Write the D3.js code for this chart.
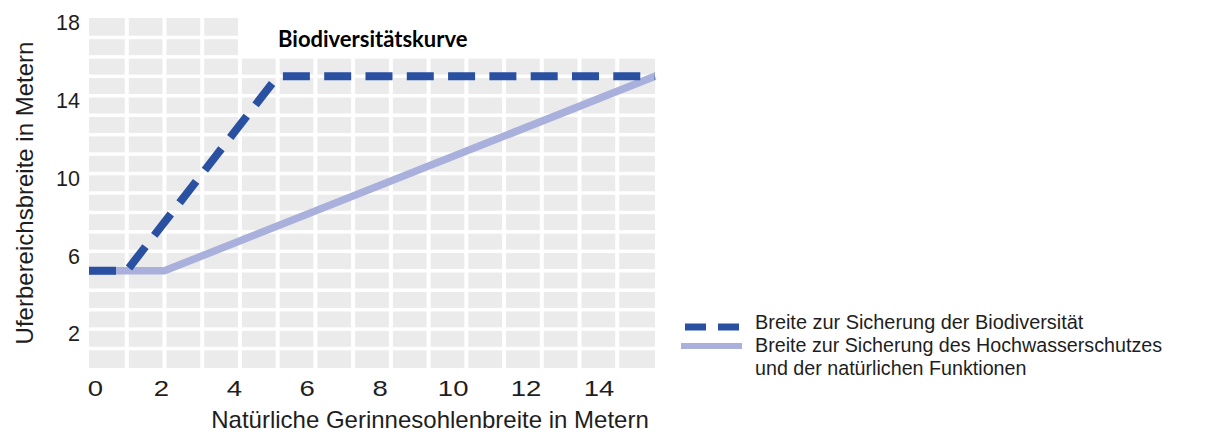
<!DOCTYPE html>
<html>
<head>
<meta charset="utf-8">
<script src="https://cdn.jsdelivr.net/npm/d3@7"></script>
<style>
  html, body { margin: 0; padding: 0; background: #fff; }
  svg { display: block; }
  text { font-family: "Liberation Sans", Arial, sans-serif; fill: #1e1e1e; }
</style>
</head>
<body>
<div id="chart"></div>
<script>
// natural channel width (x) vs. riparian width (y), both in metres
const bioX = [0, 1, 5, 15];
const bioY = [5, 5, 15, 15];
const floodX = [0, 2, 15];
const floodY = [5, 5, 15];

const xTicks = [0, 2, 4, 6, 8, 10, 12, 14];
const yTicks = [2, 6, 10, 14, 18];

const titleText = "Biodiversitätskurve";
const xTitle = "Natürliche Gerinnesohlenbreite in Metern";
const yTitle = "Uferbereichsbreite in Metern";
const legendBio = ["Breite zur Sicherung der Biodiversität"];
const legendFlood = ["Breite zur Sicherung des Hochwasserschutzes", "und der natürlichen Funktionen"];

const width = 1221;
const height = 432;

const darkBlue = "#2a50a2";
const lavender = "#a9b0dc";

const svg = d3.select("#chart")
  .append("svg")
  .attr("width", width)
  .attr("height", height);

const xScale = d3.scaleLinear().domain([0, 15]).range([89, 655]);
const yScale = d3.scaleLinear().domain([0, 18]).range([368, 18]);
// tick labels in the source sit on a slightly narrower spacing than the grid
const xTickScale = d3.scaleLinear().domain([0, 15.55]).range([88, 655]);

// grey cells with white gaps, top rows right of x=4 left blank for the title
const cells = [];
d3.range(15).forEach(c => {
  d3.range(18).forEach(r => {
    if (c >= 4 && r >= 16) return;
    cells.push({ c, r });
  });
});

svg.append("g")
  .selectAll("rect")
  .data(cells)
  .join("rect")
  .attr("x", d => xScale(d.c) + (d.c > 0 ? 2 : 0))
  .attr("width", d => xScale(d.c + 1) - xScale(d.c) - (d.c > 0 ? 2 : 0) - (d.c < 14 ? 2 : 0))
  .attr("y", d => yScale(d.r + 1) + (d.r < 17 ? 1.75 : 0))
  .attr("height", d => yScale(d.r) - yScale(d.r + 1) - (d.r < 17 ? 1.75 : 0) - (d.r > 0 ? 1.75 : 0))
  .attr("fill", "#ebebeb");

const line = d3.line()
  .x(d => xScale(d[0]))
  .y(d => yScale(d[1]))
  .curve(d3.curveLinear);

const floodPts = floodX.map((x, i) => [x, floodY[i]]);
const bioPts = bioX.map((x, i) => [x, bioY[i]]);

svg.append("path")
  .attr("d", line(floodPts))
  .attr("fill", "none")
  .attr("stroke", lavender)
  .attr("stroke-width", 7.5)
  .attr("stroke-linejoin", "miter");

svg.append("path")
  .attr("d", line(bioPts))
  .attr("fill", "none")
  .attr("stroke", darkBlue)
  .attr("stroke-width", 8)
  .attr("stroke-linejoin", "miter")
  .attr("stroke-dasharray", "27,14.3");

// axes
const xAxis = d3.axisBottom(xTickScale)
  .tickValues(xTicks)
  .tickSize(0)
  .tickPadding(12.4);

const gx = svg.append("g")
  .attr("transform", `translate(0, 368)`)
  .call(xAxis);
gx.select(".domain").remove();
gx.selectAll("text")
  .attr("font-size", 22)
  .attr("font-family", "Liberation Sans, Arial, sans-serif")
  .attr("fill", "#1e1e1e")
  .each(function (d) {
    const len = this.getComputedTextLength();
    d3.select(this)
      .attr("textLength", len * 1.25)
      .attr("lengthAdjust", "spacingAndGlyphs");
    if (d === 0) d3.select(this).attr("dx", 7);
  });

const yAxis = d3.axisLeft(yScale)
  .tickValues(yTicks)
  .tickSize(0)
  .tickPadding(9);

const gy = svg.append("g")
  .attr("transform", `translate(89, 0)`)
  .call(yAxis);
gy.select(".domain").remove();
gy.selectAll("text")
  .attr("font-size", 21.5)
  .attr("font-family", "Liberation Sans, Arial, sans-serif")
  .attr("fill", "#1e1e1e")
  .attr("dy", "0.55em");

// titles
svg.append("text")
  .attr("x", 278)
  .attr("y", 47)
  .style("font-family", "Lato, 'Open Sans', sans-serif")
  .attr("font-weight", "bold")
  .attr("font-size", 22)
  .style("fill", "#000")
  .text(titleText);

svg.append("text")
  .attr("x", 430)
  .attr("y", 428)
  .attr("text-anchor", "middle")
  .attr("font-size", 24)
  .text(xTitle);

svg.append("text")
  .attr("transform", "translate(33, 193) rotate(-90)")
  .attr("text-anchor", "middle")
  .attr("font-size", 24)
  .text(yTitle);

// legend
const legend = svg.append("g");

legend.append("line")
  .attr("x1", 685).attr("x2", 741)
  .attr("y1", 327).attr("y2", 327)
  .attr("stroke", darkBlue)
  .attr("stroke-width", 7)
  .attr("stroke-dasharray", "21,12");

legend.append("line")
  .attr("x1", 681).attr("x2", 742)
  .attr("y1", 346).attr("y2", 346)
  .attr("stroke", lavender)
  .attr("stroke-width", 6);

legend.selectAll("text.bio")
  .data(legendBio)
  .join("text")
  .attr("class", "bio")
  .attr("x", 755)
  .attr("y", 329)
  .attr("font-size", 19.9)
  .text(d => d);

legend.selectAll("text.flood")
  .data(legendFlood)
  .join("text")
  .attr("class", "flood")
  .attr("x", 755)
  .attr("y", (d, i) => 352 + i * 23)
  .attr("font-size", 19.7)
  .text(d => d);
</script>
</body>
</html>
